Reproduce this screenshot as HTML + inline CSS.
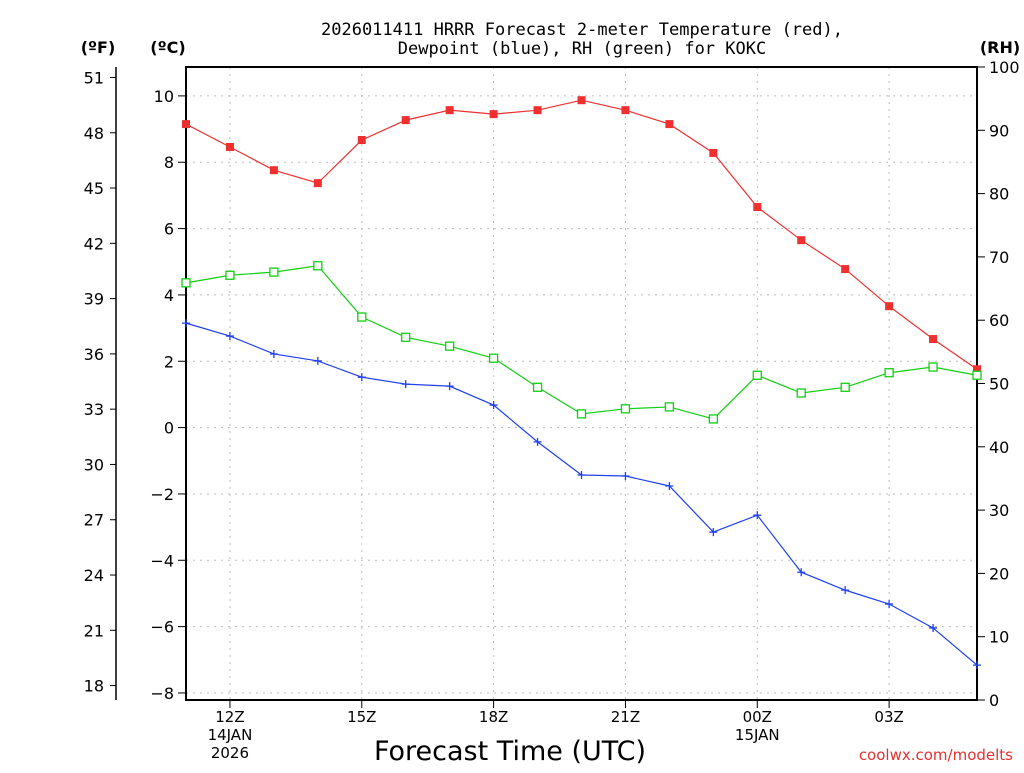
<!DOCTYPE html>
<html><head><meta charset="utf-8"><style>
body{margin:0;background:#fff}
svg text{font-family:"DejaVu Sans","Liberation Sans",sans-serif;fill:#000}
svg text.mono{font-family:"DejaVu Sans Mono","Liberation Mono",monospace}
</style></head><body>
<svg id="c" width="1024" height="768" xmlns="http://www.w3.org/2000/svg">
<text class="mono" x="582" y="35" text-anchor="middle" font-size="17">2026011411 HRRR Forecast 2-meter Temperature (red),</text>
<text class="mono" x="582" y="54" text-anchor="middle" font-size="17">Dewpoint (blue), RH (green) for KOKC</text>
<text x="98" y="53" text-anchor="middle" font-size="16" font-weight="bold">(ºF)</text>
<text x="168" y="53" text-anchor="middle" font-size="16" font-weight="bold">(ºC)</text>
<text x="1000" y="53" text-anchor="middle" font-size="16" font-weight="bold">(RH)</text>
<text x="510" y="760" text-anchor="middle" font-size="27">Forecast Time (UTC)</text>
<text x="1013" y="760" text-anchor="end" font-size="15" style="fill:#e83030">coolwx.com/modelts</text>
<g id="g"></g>
</svg>
<script>
const hours=[11,12,13,14,15,16,17,18,19,20,21,22,23,0,1,2,3,4,5];
const tempC=[9.15,8.46,7.76,7.37,8.67,9.27,9.57,9.45,9.57,9.87,9.57,9.15,8.28,6.65,5.65,4.78,3.66,2.67,1.76];
const dewC=[3.15,2.76,2.22,2.01,1.52,1.31,1.25,0.68,-0.43,-1.43,-1.46,-1.76,-3.15,-2.64,-4.36,-4.9,-5.32,-6.04,-7.16];
const rh=[65.9,67.1,67.6,68.6,60.5,57.3,55.9,54.0,49.4,45.2,46.0,46.3,44.4,51.3,48.5,49.4,51.7,52.6,51.3];
const cTicks=[10,8,6,4,2,0,-2,-4,-6,-8];
const fTicks=[51,48,45,42,39,36,33,30,27,24,21,18];
const rhTicks=[0,10,20,30,40,50,60,70,80,90,100];
const xTickIdx=[1,4,7,10,13,16];
const xTickLabels=["12Z","15Z","18Z","21Z","00Z","03Z"];
const NS="http://www.w3.org/2000/svg";
const g=document.getElementById('g');
const L=186,R=977,T=67,B=700;
const xs=i=>L+i*(R-L)/(hours.length-1);
const yC=c=>427.6-c*33.17;
const yF=f=>yC((f-32)*5/9);
const yR=r=>B-r*(B-T)/100;
function mk(t,a,name,txt){const e=document.createElementNS(NS,t);for(const k in a)e.setAttribute(k,a[k]);

if(txt!==undefined)e.textContent=txt;g.appendChild(e);return e;}
xTickIdx.forEach((i,k)=>{mk('line',{x1:xs(i),x2:xs(i),y1:T,y2:B,stroke:'#bbb','stroke-dasharray':'2,5'},'x-grid');
mk('line',{x1:xs(i),x2:xs(i),y1:B,y2:B+8,stroke:'#000'},'x-tick');
mk('text',{x:xs(i),y:B+22,'text-anchor':'middle','font-size':15},'x-tick-label',xTickLabels[k]);});
mk('text',{x:xs(1),y:B+40,'text-anchor':'middle','font-size':15},'date-label','14JAN');
mk('text',{x:xs(1),y:B+58,'text-anchor':'middle','font-size':15},'year-label','2026');
mk('text',{x:xs(13),y:B+40,'text-anchor':'middle','font-size':15},'date-label','15JAN');
cTicks.forEach(c=>{const y=yC(c);mk('line',{x1:L,x2:R,y1:y,y2:y,stroke:'#bbb','stroke-dasharray':'2,5'},'y-grid');
mk('line',{x1:L-8,x2:L,y1:y,y2:y,stroke:'#000'},'c-tick');
mk('text',{x:L-12,y:y+6,'text-anchor':'end','font-size':16},'c-tick-label',c<0?'−'+(-c):String(c));});
fTicks.forEach(f=>{const y=yF(f);mk('line',{x1:110,x2:116,y1:y,y2:y,stroke:'#000'},'f-tick');
mk('text',{x:104,y:y+6,'text-anchor':'end','font-size':16},'f-tick-label',String(f));});
mk('line',{x1:116,x2:116,y1:T,y2:B,stroke:'#000','stroke-width':1.5},'f-axis');
rhTicks.forEach(r=>{const y=yR(r);mk('line',{x1:R,x2:R+8,y1:y,y2:y,stroke:'#000'},'rh-tick');
mk('text',{x:R+12,y:y+6,'font-size':16},'rh-tick-label',String(r));});
mk('rect',{x:L,y:T,width:R-L,height:B-T,fill:'none',stroke:'#000','stroke-width':2},'plot-frame');
function series(vals,yf,col,name){mk('polyline',{points:vals.map((v,i)=>xs(i)+','+yf(v)).join(' '),fill:'none',stroke:col,'stroke-width':1.2},name+'-line');return vals.map((v,i)=>[xs(i),yf(v)]);}
series(tempC,yC,'#f03030','temperature').forEach(p=>mk('rect',{x:p[0]-4,y:p[1]-4,width:8,height:8,fill:'#f03030'},'temperature-point'));
series(rh,yR,'#10d010','rh').forEach(p=>mk('rect',{x:p[0]-4,y:p[1]-4,width:8,height:8,fill:'#fff',stroke:'#10d010','stroke-width':1.3},'rh-point'));
series(dewC,yC,'#2040f0','dewpoint').forEach(p=>mk('path',{d:`M${p[0]-4} ${p[1]}h8M${p[0]} ${p[1]-4}v8`,stroke:'#2040f0','stroke-width':1.3},'dewpoint-point'));
</script>
</body></html>
